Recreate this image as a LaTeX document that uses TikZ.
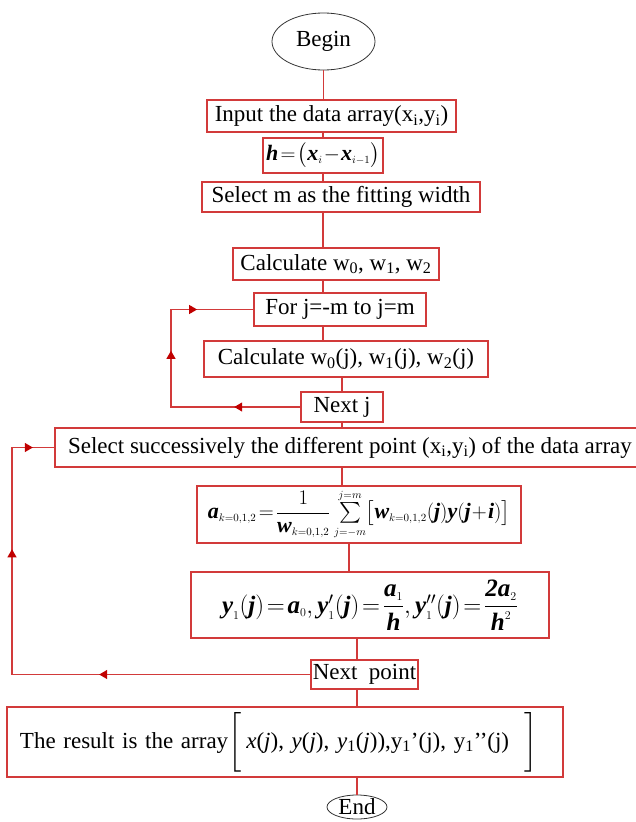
\documentclass[tikz,border=0pt]{standalone}
\usepackage{fontspec}
\setmainfont{Liberation Serif}
\usepackage{amsmath}
\usetikzlibrary{shapes,arrows.meta,decorations.markings,positioning}
\definecolor{lred}{HTML}{D23A3A}
\definecolor{dred}{HTML}{C00000}
\tikzstyle{box}=[draw=lred, line width=1.2, inner sep=0pt, fill=white, font=\fontsize{23}{27}\selectfont]
\tikzstyle{fbox}=[box, font=\fontsize{25}{29}\selectfont]
\tikzstyle{term}=[ellipse, draw=black!80, line width=0.8, inner sep=0pt, font=\fontsize{23}{27}\selectfont]
\tikzstyle{l1}=[draw=lred, line width=1.2]
\tikzset{loopline/.style n args={3}{l1, decoration={markings,
    mark=at position #1 with {\arrow[color=dred]{Triangle[length=8pt,width=9pt]}},
    mark=at position #2 with {\arrow[color=dred]{Triangle[length=8pt,width=9pt]}},
    mark=at position #3 with {\arrow[color=dred]{Triangle[length=8pt,width=9pt]}}},
    postaction={decorate}}}
\newcommand{\bv}[1]{\text{\bfseries\itshape #1}}
\newcommand{\sss}{\scriptscriptstyle}
\newcommand{\eq}{\!=\!}

\begin{document}
\begin{tikzpicture}[x=1pt, y=-1pt]
    \useasboundingbox (0,0) rectangle (635,822);

    \node[term, minimum width=103, minimum height=57] at (323.5,41.5) (begin) {Begin};
    \node[box, minimum width=249, minimum height=32] at (331.5,116) (input) {Input the data array(x\textsubscript{i},y\textsubscript{i})};
    \node[fbox, font=\fontsize{22}{26}\selectfont, minimum width=120, minimum height=35] at (323,155.5) (hbox) {$\bv{h}\eq\big(\bv{x}_{\sss i}\!-\!\bv{x}_{\sss i-1}\big)$};
    \node[box, minimum width=278, minimum height=30] at (341,197) (selm) {Select m as the fitting width};
    \node[box, minimum width=206, minimum height=32] at (336,264) (calcw) {Calculate w\textsubscript{0}, w\textsubscript{1}, w\textsubscript{2}};
    \node[box, minimum width=172, minimum height=33] at (340,309.5) (forj) {For j=-m to j=m};
    \node[box, minimum width=284, minimum height=36] at (346,359) (calcwj) {Calculate w\textsubscript{0}(j), w\textsubscript{1}(j), w\textsubscript{2}(j)};
    \node[box, minimum width=82, minimum height=30] at (342,407) (nextj) {Next j};
    \node[box, minimum width=590, minimum height=39] at (350,447.5) (selsucc) {Select successively the different point (x\textsubscript{i},y\textsubscript{i}) of the data array};
    \node[fbox, font=\fontsize{22}{26}\selectfont, minimum width=324, minimum height=57] at (359,514.5) (abox) {$\bv{a}_{\sss k=0,1,2}\eq\dfrac{1}{\bv{w}_{\sss k=0,1,2}}\sum\limits_{\sss j=-m}^{\sss j=m}\!\big[\bv{w}_{\sss k=0,1,2}(\bv{j})\bv{y}(\bv{j}\!+\!\bv{i})\big]$};
    \node[fbox, minimum width=358, minimum height=66] at (370,605) (ybox) {$\bv{y}_{\sss 1}(\bv{j})\eq\bv{a}_{\sss 0},\bv{y}^{\prime}_{\sss 1}(\bv{j})\eq\dfrac{\bv{a}_{\sss 1}}{\bv{h}},\bv{y}^{\prime\prime}_{\sss 1}(\bv{j})\eq\dfrac{\bv{2a}_{\sss 2}}{\bv{h}^{\sss 2}}$};
    \node[box, minimum width=107, minimum height=29] at (364.5,674.5) (nextp) {Next\ \ point};
    \node[box, minimum height=70, text width=556, align=left] at (285,742) (result) {\hspace*{13pt}The result is the array$\left[\rule[-21pt]{0pt}{42pt}\right.$\,\textit{x}(\textit{j}), \textit{y}(\textit{j}), \textit{y}\textsubscript{1}(\textit{j})),y\textsubscript{1}’(j), y\textsubscript{1}’’(j)\hspace{14pt}$\left.\rule[-21pt]{0pt}{42pt}\right]$};
    \node[term, minimum width=60, minimum height=24] at (357,807) (endn) {End};

    % main line
    \draw[l1] (begin.south) -- (begin.south |- input.north);
    \draw[l1] (hbox.north) -- (hbox.north |- input.south);
    \draw[l1] (hbox.south) -- (hbox.south |- selm.north);
    \draw[l1] (selm.south -| hbox) -- (calcw.north -| hbox);
    \draw[l1] (calcw.south -| hbox) -- (forj.north -| hbox);
    \draw[l1] (forj.south -| hbox) -- (calcwj.north -| hbox);
    \draw[l1] (calcwj.south -| nextj) -- (nextj.north);
    \draw[l1] (nextj.south) -- (nextj.south |- selsucc.north);
    \draw[l1] (selsucc.south -| nextj) -- (abox.north -| nextj);
    \draw[l1] ([xshift=-10]abox.south) -- ([xshift=-10]abox.south |- ybox.north);
    \draw[l1] (ybox.south -| endn) -- (nextp.north -| endn);
    \draw[l1] (nextp.south -| endn) -- (result.north -| endn);
    \draw[l1] (result.south -| endn) -- (endn.north);

    % loops
    \coordinate (innerc) at (171,360);
    \draw[loopline={0.214}{0.6}{0.818}] (nextj.west) -| (innerc) |- (forj.west);
    \coordinate (outerc) at (12,560);
    \draw[loopline={0.372}{0.746}{0.962}] (nextp.west) -| (outerc) |- (selsucc.west);
\end{tikzpicture}
\end{document}
